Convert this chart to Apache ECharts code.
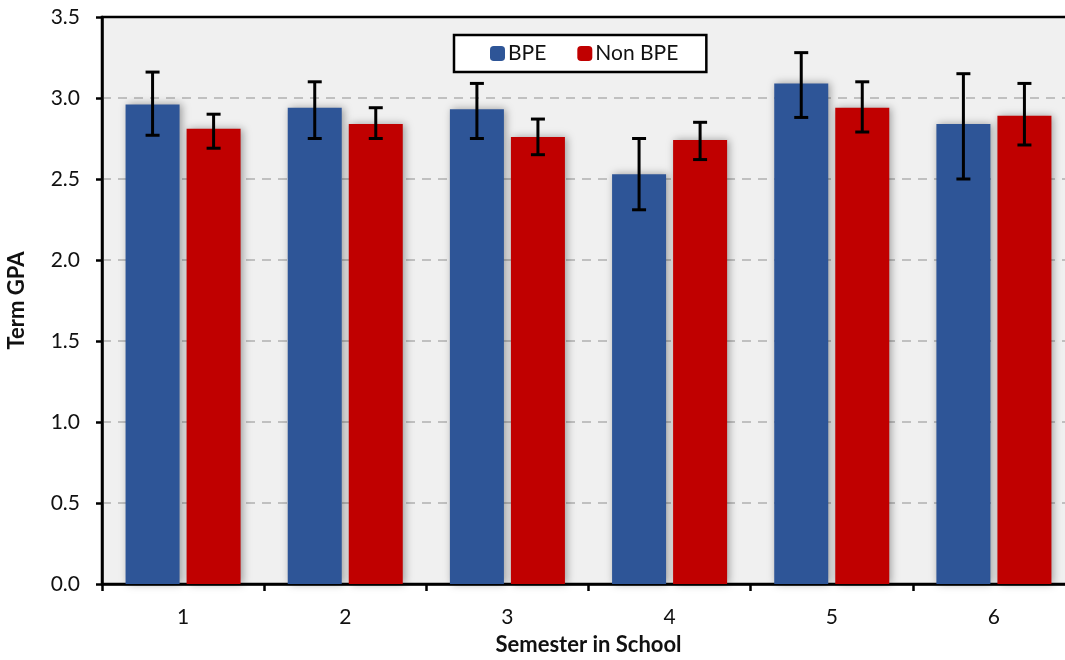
<!DOCTYPE html>
<html>
<head>
<meta charset="utf-8">
<script src="https://cdn.jsdelivr.net/npm/echarts@6/dist/echarts.min.js"></script>
<style>
html,body{margin:0;padding:0;background:#fff;}
#chart{width:1065px;height:660px;}
</style>
</head>
<body>
<div id="chart"></div>
<script>
const categories = ['1','2','3','4','5','6'];
const bpeValues = [2.96, 2.94, 2.93, 2.53, 3.09, 2.84];
const bpeLow    = [2.77, 2.75, 2.75, 2.31, 2.88, 2.50];
const bpeHigh   = [3.16, 3.10, 3.09, 2.75, 3.28, 3.15];
const nonValues = [2.81, 2.84, 2.76, 2.74, 2.94, 2.89];
const nonLow    = [2.69, 2.75, 2.65, 2.62, 2.79, 2.71];
const nonHigh   = [2.90, 2.94, 2.87, 2.85, 3.10, 3.09];
const yTicks = [0, 0.5, 1.0, 1.5, 2.0, 2.5, 3.0, 3.5];

const FONT = 'Lato';
const BAR_W = 0.333;
const BAR_GAP = 0.13;

function errData(low, high) {
  return categories.map((c, i) => [i, low[i], high[i]]);
}
function errRender(side) {
  return function (params, api) {
    const band = api.size([1, 0])[0];
    const bw = band * BAR_W;
    const off = side * bw * (1 + BAR_GAP) / 2;
    const pLo = api.coord([api.value(0), api.value(1)]);
    const pHi = api.coord([api.value(0), api.value(2)]);
    const x = pLo[0] + off;
    const cap = 7;
    const style = { stroke: '#000', lineWidth: 3 };
    return {
      type: 'group',
      children: [
        { type: 'line', shape: { x1: x, y1: pHi[1], x2: x, y2: pLo[1] }, style: style },
        { type: 'line', shape: { x1: x - cap, y1: pHi[1], x2: x + cap, y2: pHi[1] }, style: style },
        { type: 'line', shape: { x1: x - cap, y1: pLo[1], x2: x + cap, y2: pLo[1] }, style: style }
      ]
    };
  };
}

const chart = echarts.init(document.getElementById('chart'));
const barShadow = { shadowBlur: 8, shadowColor: 'rgba(0,0,0,0.35)', shadowOffsetX: 2, shadowOffsetY: 0 };
chart.setOption({
  animation: false,
  textStyle: { fontFamily: FONT },
  grid: {
    left: 102, right: -10, top: 17, bottom: 76,
    outerBoundsMode: 'none', containLabel: false,
    show: true, backgroundColor: '#f0f0f0', borderColor: '#000', borderWidth: 2.5
  },
  legend: {
    left: 454, top: 35,
    data: ['BPE', 'Non BPE'],
    backgroundColor: '#fff', borderColor: '#000', borderWidth: 2.5,
    padding: [8, 28, 8, 36],
    itemWidth: 15, itemHeight: 15, itemGap: 31,
    icon: 'roundRect',
    textStyle: { fontFamily: FONT, fontSize: 21, color: '#111', padding: [0, 0, 0, -2] }
  },
  xAxis: {
    type: 'category',
    data: categories,
    name: 'Semester in School',
    nameLocation: 'middle',
    nameGap: 50,
    nameTextStyle: { fontFamily: FONT, fontSize: 22, fontWeight: 'bold', color: '#111' },
    axisLine: { lineStyle: { color: '#000', width: 2.5 } },
    axisTick: { show: true, length: 7, lineStyle: { color: '#000', width: 2.5 } },
    axisLabel: { fontFamily: FONT, fontSize: 21, color: '#111', margin: 23 },
    splitLine: { show: false }
  },
  yAxis: {
    type: 'value',
    min: 0, max: 3.5, interval: 0.5,
    name: 'Term GPA',
    nameLocation: 'middle',
    nameGap: 74,
    nameTextStyle: { fontFamily: FONT, fontSize: 22, fontWeight: 'bold', color: '#111' },
    axisLine: { show: true, lineStyle: { color: '#000', width: 2.5 } },
    axisTick: { show: true, length: 6, lineStyle: { color: '#000', width: 2.5 } },
    axisLabel: {
      fontFamily: FONT, fontSize: 21, color: '#111', margin: 22,
      formatter: v => (yTicks.includes(v) ? v.toFixed(1) : '')
    },
    splitLine: { show: true, showMinLine: false, showMaxLine: false,
      lineStyle: { color: '#c0c0c0', width: 2, type: [9, 7] } }
  },
  series: [
    {
      name: 'BPE', type: 'bar', data: bpeValues,
      barWidth: (BAR_W * 100) + '%', barGap: (BAR_GAP * 100) + '%',
      itemStyle: Object.assign({ color: '#2e5597' }, barShadow)
    },
    {
      name: 'Non BPE', type: 'bar', data: nonValues,
      barWidth: (BAR_W * 100) + '%', barGap: (BAR_GAP * 100) + '%',
      itemStyle: Object.assign({ color: '#c00000' }, barShadow)
    },
    {
      type: 'custom', name: 'BPE err', renderItem: errRender(-1),
      data: errData(bpeLow, bpeHigh), encode: { x: 0, y: [1, 2] }, z: 10
    },
    {
      type: 'custom', name: 'Non BPE err', renderItem: errRender(1),
      data: errData(nonLow, nonHigh), encode: { x: 0, y: [1, 2] }, z: 10
    }
  ]
});
</script>
</body>
</html>
